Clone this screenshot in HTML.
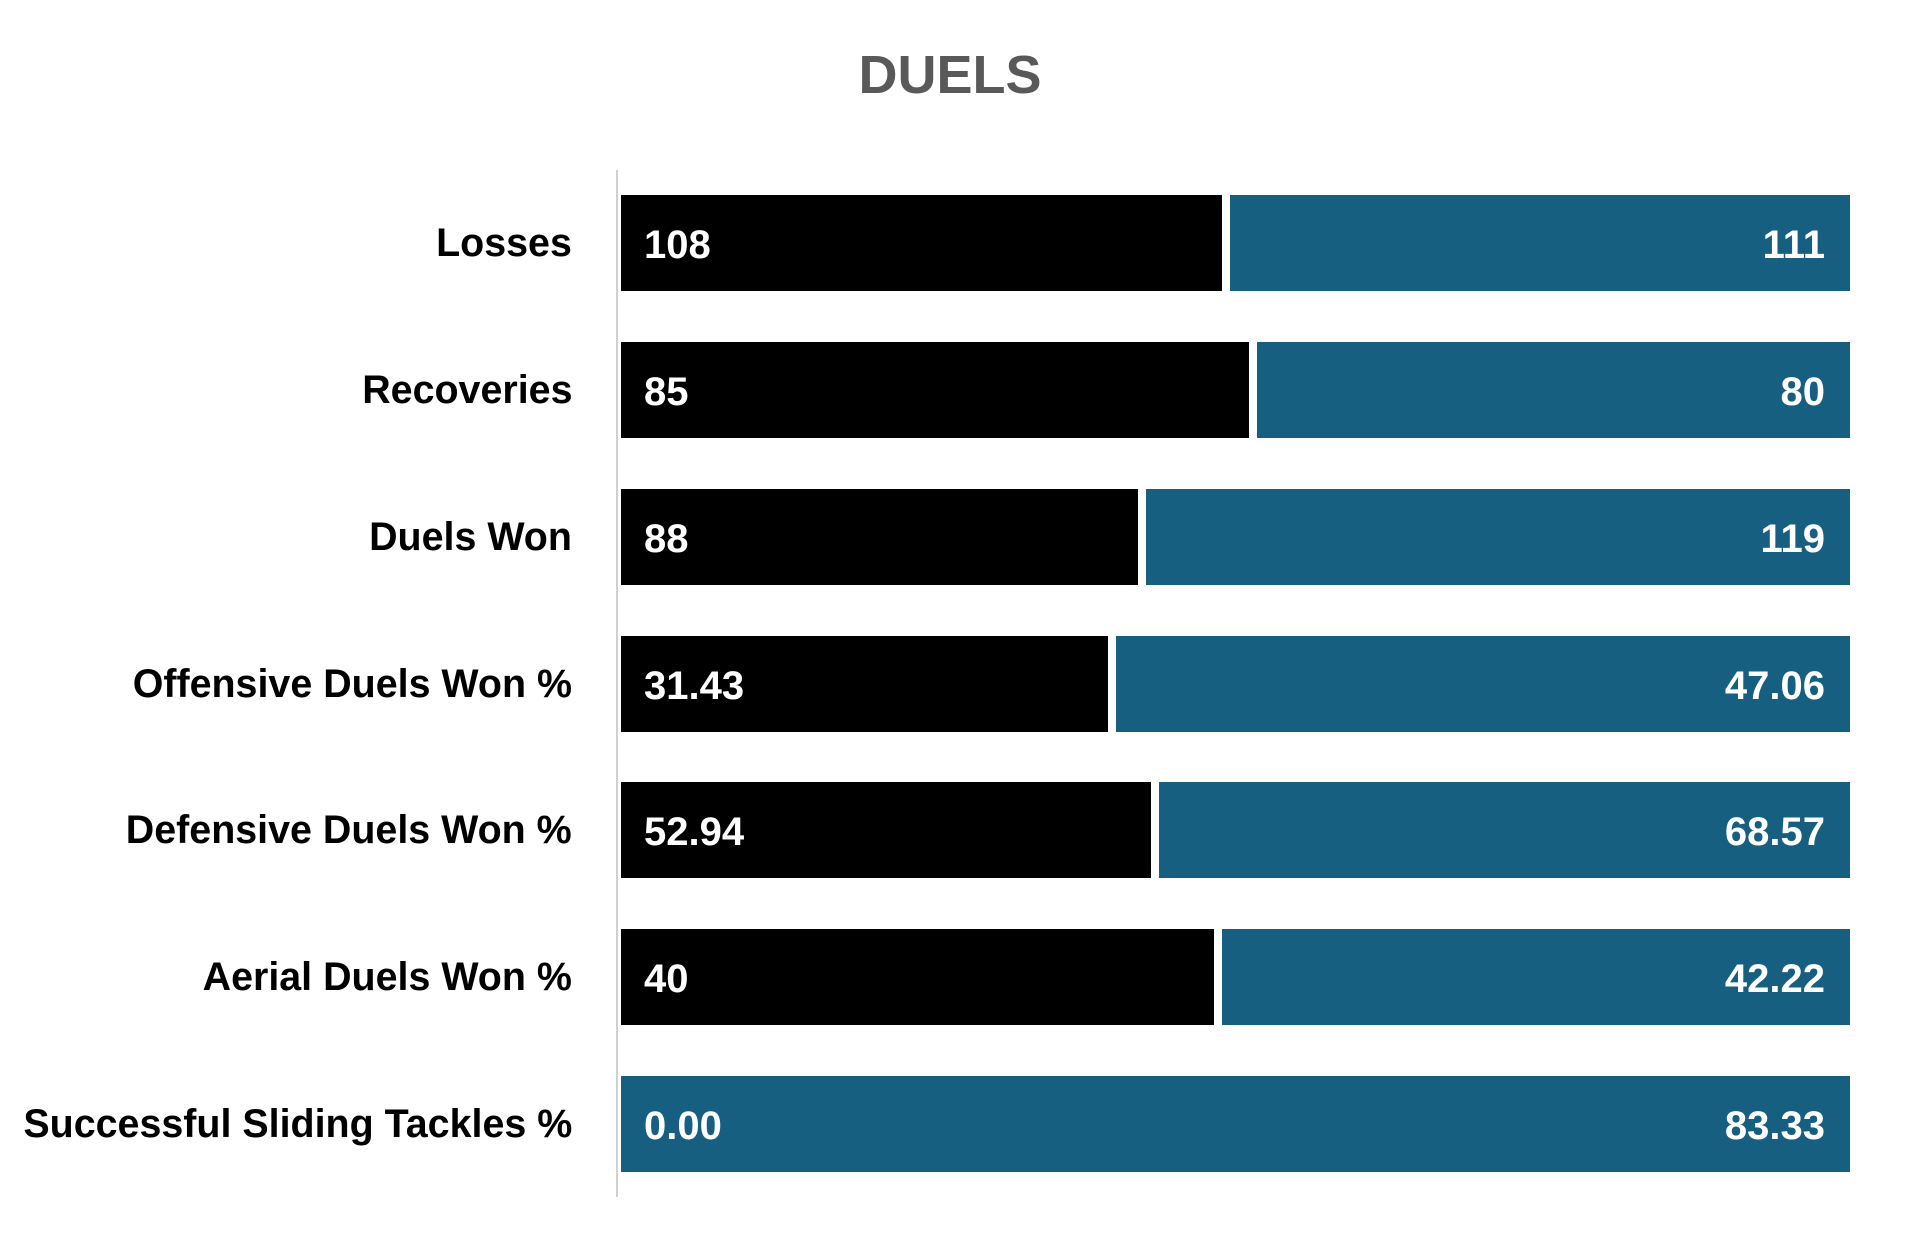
<!DOCTYPE html>
<html><head><style>
body{margin:0;width:1905px;height:1248px;background:#fff;position:relative;overflow:hidden;font-family:"Liberation Sans Narrow","Liberation Sans",sans-serif;font-weight:bold}
.t{position:absolute;left:0;width:1900px;text-align:center;top:44px;font-size:54px;color:#595959;font-family:"Liberation Sans",sans-serif}
.ax{position:absolute;left:616px;top:170px;width:2px;height:1027px;background:#d0d0d0}
.l{position:absolute;right:1333px;font-size:40px;color:#000;white-space:nowrap;line-height:96px;transform:scaleX(0.985);transform-origin:right center}
.b{position:absolute;height:96px}
.k{background:#000}.c{background:#175f81}
.v{position:absolute;color:#fff;font-size:40px;line-height:96px}
</style></head><body>
<div class="t">DUELS</div>
<div class="ax"></div>
<div class="l" style="top:195px">Losses</div>
<div class="b k" style="top:195px;left:621px;width:601px"></div>
<div class="b c" style="top:195px;left:1230px;width:620px"></div>
<div class="v" style="top:197px;left:644px">108</div>
<div class="v" style="top:197px;right:80px">111</div>

<div class="l" style="top:342px">Recoveries</div>
<div class="b k" style="top:342px;left:621px;width:628px"></div>
<div class="b c" style="top:342px;left:1257px;width:593px"></div>
<div class="v" style="top:344px;left:644px">85</div>
<div class="v" style="top:344px;right:80px">80</div>

<div class="l" style="top:489px">Duels Won</div>
<div class="b k" style="top:489px;left:621px;width:517px"></div>
<div class="b c" style="top:489px;left:1146px;width:704px"></div>
<div class="v" style="top:491px;left:644px">88</div>
<div class="v" style="top:491px;right:80px">119</div>

<div class="l" style="top:636px">Offensive Duels Won %</div>
<div class="b k" style="top:636px;left:621px;width:487px"></div>
<div class="b c" style="top:636px;left:1116px;width:734px"></div>
<div class="v" style="top:638px;left:644px">31.43</div>
<div class="v" style="top:638px;right:80px">47.06</div>

<div class="l" style="top:782px">Defensive Duels Won %</div>
<div class="b k" style="top:782px;left:621px;width:530px"></div>
<div class="b c" style="top:782px;left:1159px;width:691px"></div>
<div class="v" style="top:784px;left:644px">52.94</div>
<div class="v" style="top:784px;right:80px">68.57</div>

<div class="l" style="top:929px">Aerial Duels Won %</div>
<div class="b k" style="top:929px;left:621px;width:593px"></div>
<div class="b c" style="top:929px;left:1222px;width:628px"></div>
<div class="v" style="top:931px;left:644px">40</div>
<div class="v" style="top:931px;right:80px">42.22</div>

<div class="l" style="top:1076px">Successful Sliding Tackles %</div>
<div class="b c" style="top:1076px;left:621px;width:1229px"></div>
<div class="v" style="top:1078px;left:644px">0.00</div>
<div class="v" style="top:1078px;right:80px">83.33</div>
</body></html>
